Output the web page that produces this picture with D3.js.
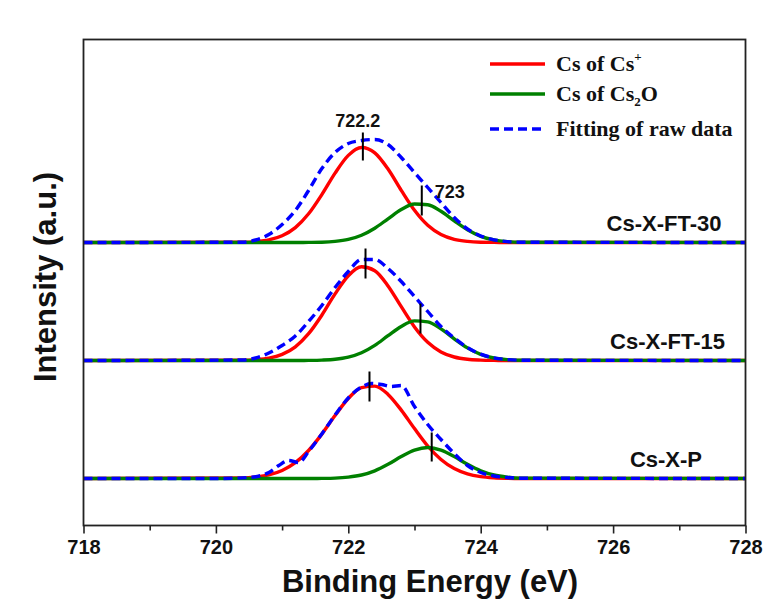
<!DOCTYPE html>
<html>
<head>
<meta charset="utf-8">
<script src="https://cdn.jsdelivr.net/npm/d3@7/dist/d3.min.js"></script>
<style>
  html, body { margin: 0; padding: 0; background: #ffffff; }
  svg { display: block; }
</style>
</head>
<body>
<svg id="chart" width="779" height="606"></svg>
<script>
// ---------------- DATA ----------------
const xTickLabels = [718, 720, 722, 724, 726, 728];
const xMinorTicks = [719, 721, 723, 725, 727];

const sampleNames = ["Cs-X-FT-30", "Cs-X-FT-15", "Cs-X-P"];
const sampleOffsets = [283, 165, 47];   // vertical stacking (a.u.)

// binding energies (eV) at which the fitted components were read
const energyGrid = [718, 720.4, 720.6, 720.8, 721.0, 721.2, 721.4, 721.6, 721.8, 722.0, 722.2,
  722.4, 722.6, 722.8, 723.0, 723.2, 723.4, 723.6, 723.8, 724.0, 724.2, 724.4, 724.6, 728];

// Cs of Cs+ component
const csPlusFT30 = [0, 0.3, 0.9, 2.6, 6.7, 14.9, 28.7, 47.9, 69.4, 87.1, 95.0, 89.7, 73.5, 52.2, 32.2, 17.2, 8.0, 3.2, 1.1, 0.3, 0.1, 0, 0, 0];
const csPlusFT15 = [0, 0.2, 0.8, 2.3, 6.1, 13.7, 26.8, 45.3, 66.6, 84.8, 93.7, 89.8, 74.6, 53.8, 33.6, 18.2, 8.6, 3.5, 1.2, 0.4, 0.1, 0, 0, 0];
const csPlusP    = [0, 0.5, 1.5, 3.6, 8.0, 15.8, 28.0, 44.4, 63.0, 80.0, 90.9, 92.4, 84.1, 68.4, 49.9, 32.5, 19.0, 9.9, 4.6, 1.9, 0.7, 0.2, 0, 0];

// Cs of Cs2O component
const cs2oFT30 = [0, 0, 0, 0, 0, 0, 0.1, 0.3, 1.1, 3.1, 7.3, 14.3, 23.7, 32.9, 38.5, 37.8, 31.2, 21.7, 12.7, 6.2, 2.6, 0.9, 0.3, 0];
const cs2oFT15 = [0, 0, 0, 0, 0, 0, 0.1, 0.4, 1.2, 3.3, 7.7, 15.1, 24.8, 34.1, 39.6, 38.6, 31.6, 21.7, 12.6, 6.1, 2.5, 0.9, 0.3, 0];
const cs2oP    = [0, 0, 0, 0, 0, 0, 0, 0.1, 0.4, 1.4, 3.5, 7.7, 14.2, 21.9, 28.4, 31.0, 28.4, 21.9, 14.2, 7.7, 3.5, 1.4, 0.4, 0];

// Fitting of raw data
const fitFT30 = [0, 0.3, 2.5, 8, 18, 32, 52, 74, 90, 99, 102, 103, 98, 85, 70, 55, 40, 25, 13.5, 6.5, 2.7, 0.9, 0.3, 0];
const fitFT15 = [0, 0.5, 2.5, 7.5, 15, 24.5, 39, 55, 73, 89, 101, 101, 92, 79, 64, 49, 34, 22.5, 13, 6.3, 2.6, 0.9, 0.3, 0];
const fitPEnergy = [718, 720.0, 720.5, 720.8, 720.95, 721.1, 721.25, 721.4, 721.6, 721.8, 722.0, 722.2, 722.35,
  722.5, 722.65, 722.8, 723.0, 723.2, 723.4, 723.6, 723.8, 724.0, 724.2, 724.4, 724.6, 728];
const fitP = [0, 0, 1, 6, 13, 18, 16, 27, 44.5, 63.5, 80.5, 91.5, 95, 94, 92, 93, 72, 54, 39, 25, 13, 6, 2.5, 1, 0.3, 0];

// peak position markers: [energy, low, high] (a.u. above each baseline)
const markersFT30 = [[722.22, 82, 110], [723.11, 27, 57]];
const markersFT15 = [[722.26, 82, 112], [723.09, 27, 57]];
const markersP    = [[722.32, 77, 107], [723.26, 17, 46]];

const peakLabels = ["722.2", "723"];
const legendNames = ["Cs of Cs", "Cs of Cs", "Fitting of raw data"];

// ---------------- CHART ----------------
const svg = d3.select("#chart");
const plot = { left: 83.5, right: 745.5, top: 39.5, bottom: 525.5 };

const x = d3.scaleLinear().domain([718, 728]).range([plot.left, plot.right]);
const y = d3.scaleLinear().domain([0, 486]).range([plot.bottom, plot.top]);

const RED = "#ff0000", GREEN = "#008000", BLUE = "#0000ff";

// sample label right edges, in pixels
const labelRight = [721.5, 725, 702];

const panels = [
  { name: sampleNames[0], off: sampleOffsets[0], red: csPlusFT30, green: cs2oFT30, fitE: energyGrid, fit: fitFT30, markers: markersFT30, labelEnd: labelRight[0] },
  { name: sampleNames[1], off: sampleOffsets[1], red: csPlusFT15, green: cs2oFT15, fitE: energyGrid, fit: fitFT15, markers: markersFT15, labelEnd: labelRight[1] },
  { name: sampleNames[2], off: sampleOffsets[2], red: csPlusP, green: cs2oP, fitE: fitPEnergy, fit: fitP, markers: markersP, labelEnd: labelRight[2] }
];

svg.append("clipPath").attr("id", "clip").append("rect")
  .attr("x", plot.left).attr("y", plot.top)
  .attr("width", plot.right - plot.left).attr("height", plot.bottom - plot.top);

const g = svg.append("g").attr("clip-path", "url(#clip)");

function lineFor(off) {
  return d3.line()
    .x(d => x(d[0]))
    .y(d => y(d[1] + off))
    .curve(d3.curveMonotoneX);
}

panels.forEach(p => {
  const ln = lineFor(p.off);
  g.append("path").datum(d3.zip(energyGrid, p.red))
    .attr("d", ln).attr("fill", "none").attr("stroke", RED).attr("stroke-width", 3.4);
  g.append("path").datum(d3.zip(energyGrid, p.green))
    .attr("d", ln).attr("fill", "none").attr("stroke", GREEN).attr("stroke-width", 3.4);
  g.append("path").datum(d3.zip(p.fitE, p.fit))
    .attr("d", ln).attr("fill", "none").attr("stroke", BLUE).attr("stroke-width", 3.4)
    .attr("stroke-dasharray", "9,5");
  p.markers.forEach(m => {
    svg.append("line")
      .attr("x1", x(m[0])).attr("x2", x(m[0]))
      .attr("y1", y(p.off + m[1])).attr("y2", y(p.off + m[2]))
      .attr("stroke", "#000").attr("stroke-width", 2);
  });
  svg.append("text")
    .attr("x", p.labelEnd).attr("y", y(p.off) - 12)
    .attr("text-anchor", "end")
    .attr("font-family", "'Liberation Sans', Arial, sans-serif")
    .attr("font-weight", "bold").attr("font-size", 22)
    .attr("fill", "#111")
    .text(p.name);
});

// peak value annotations (top panel)
svg.append("text")
  .attr("x", x(panels[0].markers[0][0]) - 5).attr("y", y(panels[0].off + panels[0].markers[0][2]) - 6)
  .attr("text-anchor", "middle")
  .attr("font-family", "'Liberation Sans', Arial, sans-serif")
  .attr("font-weight", "bold").attr("font-size", 18).attr("fill", "#111")
  .text(peakLabels[0]);
svg.append("text")
  .attr("x", x(panels[0].markers[1][0]) + 13).attr("y", y(panels[0].off + panels[0].markers[1][2]) + 12)
  .attr("text-anchor", "start")
  .attr("font-family", "'Liberation Sans', Arial, sans-serif")
  .attr("font-weight", "bold").attr("font-size", 18).attr("fill", "#111")
  .text(peakLabels[1]);

// frame
svg.append("rect")
  .attr("x", plot.left).attr("y", plot.top)
  .attr("width", plot.right - plot.left).attr("height", plot.bottom - plot.top)
  .attr("fill", "none").attr("stroke", "#222").attr("stroke-width", 1.8);

// x axis
const axisG = svg.append("g").attr("transform", `translate(0,${plot.bottom})`);
axisG.call(d3.axisBottom(x).tickValues(xTickLabels).tickSize(8).tickPadding(6).tickFormat(d3.format("d")));
const minorG = svg.append("g").attr("transform", `translate(0,${plot.bottom})`);
minorG.call(d3.axisBottom(x).tickValues(xMinorTicks).tickSize(5).tickFormat(""));
[axisG, minorG].forEach(a => {
  a.select(".domain").remove();
  a.selectAll(".tick line").attr("stroke", "#222").attr("stroke-width", 1.6);
});
axisG.selectAll(".tick text")
  .attr("font-family", "'Liberation Sans', Arial, sans-serif")
  .attr("font-weight", "bold").attr("font-size", 20).attr("fill", "#111");

// axis titles
svg.append("text")
  .attr("x", 430).attr("y", 592)
  .attr("text-anchor", "middle")
  .attr("font-family", "'Liberation Sans', Arial, sans-serif")
  .attr("font-weight", "bold").attr("font-size", 31).attr("fill", "#111")
  .text("Binding Energy (eV)");
svg.append("text")
  .attr("transform", "translate(56,277) rotate(-90)")
  .attr("text-anchor", "middle")
  .attr("font-family", "'Liberation Sans', Arial, sans-serif")
  .attr("font-weight", "bold").attr("font-size", 31).attr("fill", "#111")
  .text("Intensity (a.u.)");

// legend
const legendItems = [
  { color: RED, dash: null, y: 64, label: legendNames[0], sup: "+", sub: null, tail: null },
  { color: GREEN, dash: null, y: 94, label: legendNames[1], sup: null, sub: "2", tail: "O" },
  { color: BLUE, dash: "9,5", y: 129, label: legendNames[2], sup: null, sub: null, tail: null }
];
legendItems.forEach(it => {
  svg.append("line")
    .attr("x1", 490).attr("x2", 545).attr("y1", it.y).attr("y2", it.y)
    .attr("stroke", it.color).attr("stroke-width", 3.6)
    .attr("stroke-dasharray", it.dash);
  const t = svg.append("text")
    .attr("x", 556).attr("y", it.y + 7)
    .attr("font-family", "'Liberation Serif', 'Times New Roman', serif")
    .attr("font-weight", "bold").attr("font-size", 22).attr("fill", "#111");
  t.append("tspan").text(it.label);
  if (it.sup) t.append("tspan").attr("font-size", 13).attr("dy", -10).text(it.sup);
  if (it.sub) {
    t.append("tspan").attr("font-size", 13).attr("dy", 5).text(it.sub);
    t.append("tspan").attr("dy", -5).text(it.tail);
  }
});
</script>
</body>
</html>
